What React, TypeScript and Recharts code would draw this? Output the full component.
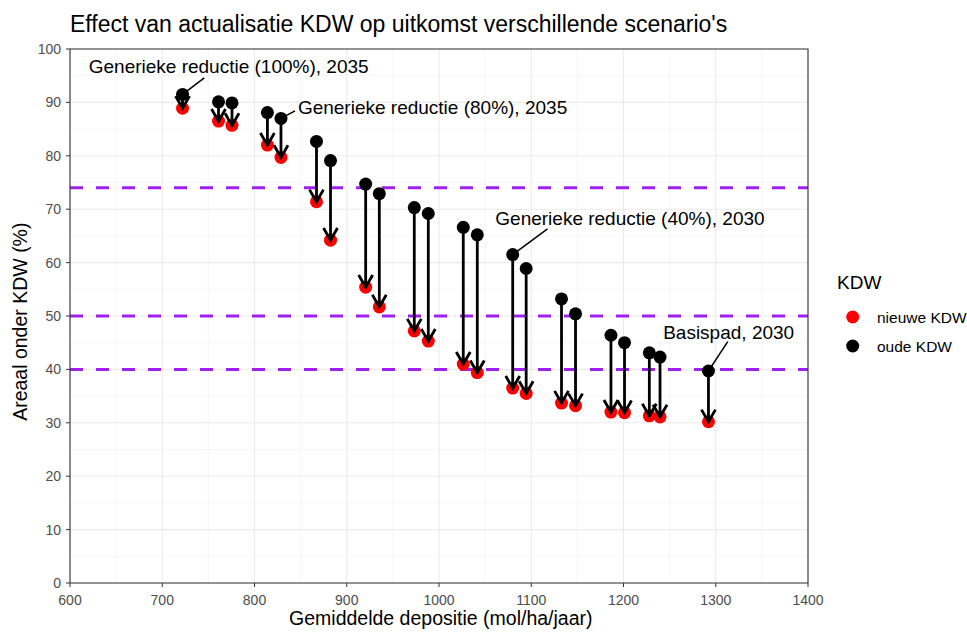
import React from 'react';
import {
  ScatterChart,
  Scatter,
  XAxis,
  YAxis,
  CartesianGrid,
  ReferenceLine,
  ReferenceArea,
} from 'recharts';

// Gemiddelde depositie per scenario (mol/ha/jaar)
const depositie = [722, 761, 775.6, 814, 828.7, 867.2, 882.4, 920.5, 935.3, 973.2, 988.4, 1026.3, 1041.5, 1079.9, 1094.5, 1132.8, 1148, 1186.4, 1201.1, 1228, 1239.6, 1292.1];
// Areaal onder KDW (%)
const oudeKDW = [91.5, 90.1, 89.9, 88.1, 87.0, 82.7, 79.1, 74.7, 72.9, 70.3, 69.2, 66.6, 65.2, 61.5, 58.9, 53.2, 50.4, 46.4, 45.0, 43.1, 42.3, 39.7];
const nieuweKDW = [88.9, 86.5, 85.7, 82.0, 79.7, 71.4, 64.2, 55.4, 51.7, 47.2, 45.3, 41.0, 39.4, 36.5, 35.5, 33.7, 33.2, 32.0, 31.9, 31.3, 31.1, 30.2];

const drempels = [74, 50, 40];

const xTicks = [600, 700, 800, 900, 1000, 1100, 1200, 1300, 1400];
const yTicks = [0, 10, 20, 30, 40, 50, 60, 70, 80, 90, 100];
const xMinor = [650, 750, 850, 950, 1050, 1150, 1250, 1350];
const yMinor = [5, 15, 25, 35, 45, 55, 65, 75, 85, 95];

// annotaties (ggrepel-achtig): tekst, bijbehorend punt, tekstpositie en eind van de verbindingslijn
const labelTeksten = ['Generieke reductie (100%), 2035', 'Generieke reductie (80%), 2035', 'Generieke reductie (40%), 2030', 'Basispad, 2030'];
const labelPunt = [0, 4, 13, 21];
const labelX = [772, 993, 1207, 1314];
const labelY = [96.7, 89.1, 68.3, 46.9];
const lijnX = [745.6, 843.9, 1117.6, 1313];
const lijnY = [94.6, 88.4, 66.3, 45.2];

const FONT = 'Arial, "Liberation Sans", Helvetica, sans-serif';

const oudePunten = depositie.map((x, i) => ({ x, y: oudeKDW[i] }));
const nieuwePunten = depositie.map((x, i) => ({ x, y: nieuweKDW[i] }));
const labelData = labelTeksten.map((tekst, i) => ({ x: labelX[i], y: labelY[i], tekst }));

const Pijl = (props: any) => {
  const { x1, y1, x2, y2 } = props;
  const hoek = Math.atan2(y2 - y1, x2 - x1);
  const len = 14;
  const spreid = Math.PI / 6;
  const ax = x2 - len * Math.cos(hoek - spreid);
  const ay = y2 - len * Math.sin(hoek - spreid);
  const bx = x2 - len * Math.cos(hoek + spreid);
  const by = y2 - len * Math.sin(hoek + spreid);
  return (
    <g>
      <line x1={x1} y1={y1} x2={x2} y2={y2} stroke="#000" strokeWidth={2.8} />
      <polyline points={`${ax},${ay} ${x2},${y2} ${bx},${by}`} fill="none" stroke="#000" strokeWidth={2.8} strokeLinejoin="miter" />
    </g>
  );
};

const Stip = (kleur: string) => (props: any) => {
  const { cx, cy } = props;
  return <circle cx={cx} cy={cy} r={6.5} fill={kleur} />;
};

const LabelTekst = (props: any) => {
  const { cx, cy, payload } = props;
  return (
    <text x={cx} y={cy} dy="0.35em" textAnchor="middle" fontSize={19} fontFamily={FONT} fill="#000">
      {payload.tekst}
    </text>
  );
};

export default function App() {
  return (
    <div style={{ position: 'absolute', left: 0, top: 0, width: 967, height: 632, background: '#fff', fontFamily: FONT }}>
      <ScatterChart width={967} height={632} margin={{ top: 49, right: 159, bottom: 0, left: 0 }}>
        <CartesianGrid stroke="#ebebeb" strokeWidth={1.1} />
        {xMinor.map((v) => (
          <ReferenceLine key={`xm${v}`} x={v} stroke="#f0f0f0" strokeWidth={0.6} />
        ))}
        {yMinor.map((v) => (
          <ReferenceLine key={`ym${v}`} y={v} stroke="#f0f0f0" strokeWidth={0.6} />
        ))}
        <XAxis
          type="number"
          dataKey="x"
          domain={[600, 1400]}
          ticks={xTicks}
          allowDataOverflow
          height={49}
          axisLine={false}
          tickLine={{ stroke: '#333' }}
          tickSize={4}
          tickMargin={8}
          fontSize={14}
          tick={{ fill: '#4d4d4d', fontSize: 14, fontFamily: FONT }}
        />
        <YAxis
          type="number"
          dataKey="y"
          domain={[0, 100]}
          ticks={yTicks}
          allowDataOverflow
          width={70}
          axisLine={false}
          tickLine={{ stroke: '#333' }}
          tickSize={4}
          tickMargin={5}
          fontSize={14}
          tick={{ fill: '#4d4d4d', fontSize: 14, fontFamily: FONT }}
        />
        {drempels.map((v) => (
          <ReferenceLine key={`d${v}`} y={v} stroke="#a020f0" strokeWidth={3} strokeDasharray="13 13" />
        ))}
        <Scatter data={nieuwePunten} shape={Stip('#ff0000')} isAnimationActive={false} />
        <Scatter data={oudePunten} shape={Stip('#000000')} isAnimationActive={false} />
        {labelPunt.map((p, i) => (
          <ReferenceLine
            key={`l${i}`}
            segment={[{ x: depositie[p], y: oudeKDW[p] }, { x: lijnX[i], y: lijnY[i] }]}
            stroke="#000"
            strokeWidth={1.5}
            zIndex={700}
          />
        ))}
        {depositie.map((x, i) => (
          <ReferenceLine
            key={`p${i}`}
            segment={[{ x, y: oudeKDW[i] }, { x, y: nieuweKDW[i] }]}
            shape={Pijl}
            zIndex={700}
          />
        ))}
        <Scatter data={labelData} shape={LabelTekst} isAnimationActive={false} />
        <ReferenceArea x1={600} x2={1400} y1={0} y2={100} fill="none" stroke="#333" strokeWidth={1.1} zIndex={800} />
      </ScatterChart>
      <svg width={967} height={632} style={{ position: 'absolute', left: 0, top: 0, pointerEvents: 'none' }}>
        <text x={70} y={31.7} fontSize={23} fontFamily={FONT} fill="#000">
          Effect van actualisatie KDW op uitkomst verschillende scenario's
        </text>
        <text x={440.8} y={625} fontSize={19.5} fontFamily={FONT} fill="#000" textAnchor="middle">
          Gemiddelde depositie (mol/ha/jaar)
        </text>
        <text transform="translate(27,321.7) rotate(-90)" fontSize={19.5} fontFamily={FONT} fill="#000" textAnchor="middle">
          Areaal onder KDW (%)
        </text>
        <text x={837} y={289} fontSize={19} fontFamily={FONT} fill="#000">KDW</text>
        <circle cx={852.7} cy={317} r={6.5} fill="#ff0000" />
        <text x={877} y={322.5} fontSize={15.5} fontFamily={FONT} fill="#000">nieuwe KDW</text>
        <circle cx={852.7} cy={346} r={6.5} fill="#000000" />
        <text x={877} y={351.5} fontSize={15.5} fontFamily={FONT} fill="#000">oude KDW</text>
      </svg>
    </div>
  );
}
